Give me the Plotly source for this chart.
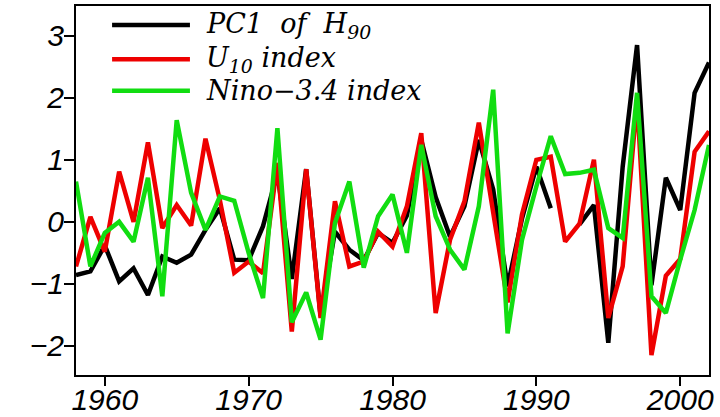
import plotly.graph_objects as go

years = list(range(1958, 2003))

pc1_h90 = [-0.86, -0.80, -0.38, -0.96, -0.75, -1.18, -0.56, -0.66, -0.53, -0.13,
           0.22, -0.61, -0.62, -0.07, 0.79, -0.92, 0.85, -1.52, -0.16, -0.45,
           -0.62, -0.18, -0.34, 0.10, 1.32, 0.40, -0.24, 0.25, 1.32, 0.52,
           -1.04, 0.05, 0.89, 0.22, None, -0.04, 0.27, -1.95, 0.89, 2.85,
           -1.02, 0.71, 0.19, 2.08, 2.57]

u10_index = [-0.72, 0.08, -0.48, 0.81, 0.00, 1.28, -0.10, 0.27, -0.06, 1.34,
             0.35, -0.82, -0.64, -0.83, 0.95, -1.77, 0.85, -1.55, 0.33, -0.72,
             -0.64, -0.16, -0.40, 0.25, 1.43, -1.47, -0.29, 0.33, 1.60, 0.15,
             -1.30, 0.12, 1.00, 1.05, -0.32, -0.03, 1.00, -1.55, -0.72, 1.97,
             -2.15, -0.87, -0.60, 1.13, 1.46]

nino34_index = [0.65, -0.72, -0.18, 0.00, -0.32, 0.71, -1.20, 1.64, 0.47, -0.13,
                0.41, 0.34, -0.50, -1.23, 1.51, -1.62, -1.14, -1.90, -0.02, 0.65,
                -0.74, 0.09, 0.44, -0.50, 1.24, 0.09, -0.45, -0.77, 0.25, 2.13,
                -1.80, -0.29, 0.57, 1.38, 0.77, 0.79, 0.84, -0.10, -0.26, 2.08,
                -1.20, -1.47, -0.61, 0.19, 1.24]

series_names = ["PC1\u00a0\u00a0of\u00a0\u00a0H<sub>90</sub>", "U<sub>10</sub>\u00a0index", "Nino\u22123.4\u00a0index"]
series_colors = ["#000000", "#ee0000", "#11dd11"]
series_values = [pc1_h90, u10_index, nino34_index]

x_ticks = [1960, 1970, 1980, 1990, 2000]
y_ticks = [-2, -1, 0, 1, 2, 3]

fig = go.Figure()
for name, col, vals in zip(series_names, series_colors, series_values):
    fig.add_trace(go.Scatter(x=years, y=vals, mode="lines", name=name,
                             line=dict(color=col, width=4.5), connectgaps=False,
                             showlegend=False))

# custom legend (long line samples, as in the reference)
leg_y = [0.9485, 0.856, 0.770]
for name, col, yy in zip(series_names, series_colors, leg_y):
    fig.add_shape(type="line", xref="paper", yref="paper",
                  x0=0.057, x1=0.180, y0=yy, y1=yy,
                  line=dict(color=col, width=4.5))
    fig.add_annotation(xref="paper", yref="paper", x=0.203, y=yy,
                       xanchor="left", yanchor="middle", showarrow=False,
                       text=name,
                       font=dict(family="DejaVu Serif", size=27, color="black", style="italic"))

axis_font = dict(family="Liberation Sans", size=30, color="black", style="italic")

fig.update_layout(
    width=720, height=417,
    margin=dict(l=76, r=11, t=6, b=42, autoexpand=False),
    paper_bgcolor="white", plot_bgcolor="white",
    xaxis=dict(range=[1958, 2002], tickvals=x_ticks, ticks="outside", ticklen=9,
               tickwidth=1.5, tickcolor="black", showgrid=False, zeroline=False,
               showline=True, linecolor="black", linewidth=2, mirror=True,
               tickfont=axis_font, automargin=False, ticklabelstandoff=-12),
    yaxis=dict(range=[-2.47, 3.48], tickvals=y_ticks, ticks="outside", ticklen=10,
               tickwidth=1.5, tickcolor="black", showgrid=False, zeroline=False,
               showline=True, linecolor="black", linewidth=2, mirror=True,
               tickfont=axis_font, automargin=False, ticklabelstandoff=-6),
)

fig.write_html("out.html")
